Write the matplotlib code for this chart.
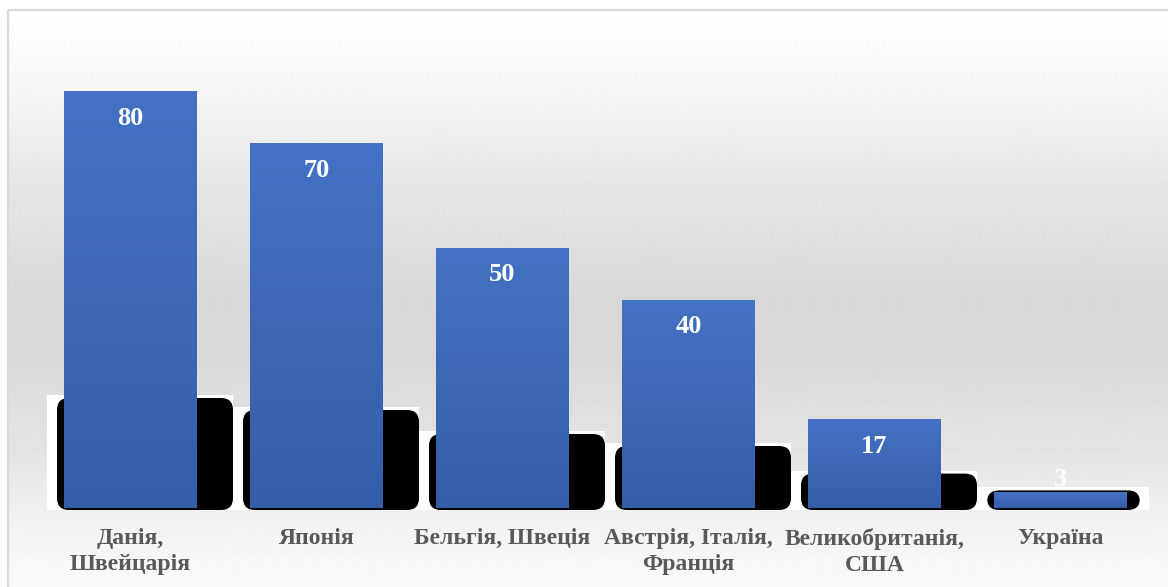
import numpy as np
import matplotlib
matplotlib.use('Agg')
import matplotlib.pyplot as plt
from matplotlib.patches import Rectangle, FancyBboxPatch
from matplotlib.colors import LinearSegmentedColormap

countries = ['Данія,\nШвейцарія', 'Японія', 'Бельгія, Швеція',
             'Австрія, Італія,\nФранція', 'Великобританія,\nСША', 'Україна']
values = [80, 70, 50, 40, 17, 3]

plt.rcParams['font.family'] = ['Liberation Serif', 'DejaVu Serif']

W, H = 1168, 587
fig = plt.figure(figsize=(W / 100, H / 100), dpi=100)
fig.patch.set_facecolor('white')

# background gradient + frame (pixel coords, y from top)
bg = fig.add_axes([0, 0, 1, 1], zorder=0)
rows = np.arange(10, H)
shade = np.interp(rows, [10, 100, 200, 300, 360, 450, 520, 587],
                  [255, 245, 228, 216, 217, 228, 242, 250]) / 255
bg.imshow(np.repeat(shade[:, None], 2, axis=1), cmap='gray', vmin=0, vmax=1,
          extent=[8, W, H, 10], aspect='auto', interpolation='bilinear')
bg.add_patch(Rectangle((8, 10), W, H, fill=False, ec='#d9d9d9', lw=1.6))
bg.set_xlim(0, W)
bg.set_ylim(H, 0)
bg.axis('off')

# main axes: 186 px per category, 5.21 px per unit, zero at y=508
px_x = 1 / 186
px_y = 1 / 5.21
ax = fig.add_axes([37.5 / W, (H - 510) / H, 1116 / W, 500 / H], zorder=1)
ax.patch.set_alpha(0)
bw = 133 * px_x

# odd black "shadow" blobs behind the bars
last = len(values) - 1
for i, v in enumerate(values):
    L = i - bw / 2
    R = i + bw / 2
    ext = 36 if i < last else 13
    x0 = L - 7 * px_x
    x1 = R + ext * px_x
    wr = x1 if i < last else x1 + 9 * px_x
    ax.add_patch(Rectangle((L - 17 * px_x, -2 * px_y), wr - (L - 17 * px_x),
                           (1.2 * v + 19) * px_y, fc='white', ec='none', zorder=1))
    ax.add_patch(FancyBboxPatch((x0, -2 * px_y), x1 - x0, (1.2 * v + 16) * px_y,
                                boxstyle='round,pad=0,rounding_size=%f' % (12 * px_x),
                                mutation_aspect=px_y / px_x,
                                fc='black', ec='none', zorder=1))

bars = ax.bar(range(len(values)), values, width=bw, color='none', zorder=3)
cmap = LinearSegmentedColormap.from_list('bar', ['#345ea8', '#4472c4'])
grad = np.linspace(0, 1, 256)[:, None]
for b in bars:
    x, w, h = b.get_x(), b.get_width(), b.get_height()
    im = ax.imshow(grad, cmap=cmap, origin='lower', extent=[x, x + w, 0, h],
                   aspect='auto', zorder=3)
    im.set_clip_path(b)

for i, v in enumerate(values):
    ax.text(i, max(v - 27 * px_y, 28 * px_y), str(v), ha='center', va='center',
            color='white', fontsize=19, fontweight='bold', zorder=5)

ax.set_xlim(-0.5, len(values) - 0.5)
ax.set_ylim(-2 * px_y, 500 * px_y - 2 * px_y)
ax.set_xticks(range(len(values)))
ax.set_xticklabels(countries, fontsize=17, fontweight='bold', color='#595959',
                   linespacing=1.33)
ax.tick_params(axis='x', length=0, pad=13)
ax.set_yticks([])
for s in ax.spines.values():
    s.set_visible(False)

fig.savefig('out.png', dpi=100)
